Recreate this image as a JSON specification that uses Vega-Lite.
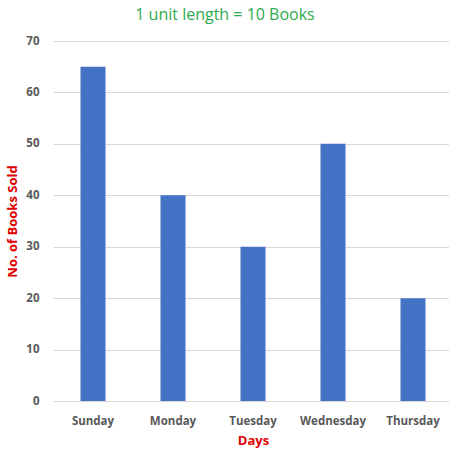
{
  "$schema": "https://vega.github.io/schema/vega-lite/v6.json",
  "autosize": {"type": "none"},
  "width": 396,
  "height": 360,
  "padding": {"left": 53, "top": 41, "right": 0, "bottom": 55},
  "background": "white",
  "title": {
    "text": "1 unit length = 10 Books",
    "color": "#2EAA4F",
    "font": "Open Sans",
    "fontSize": 16,
    "fontWeight": "normal",
    "anchor": "middle",
    "dx": -26,
    "offset": 12
  },
  "data": {
    "values": [
      {"day": "Sunday", "books": 65},
      {"day": "Monday", "books": 40},
      {"day": "Tuesday", "books": 30},
      {"day": "Wednesday", "books": 50},
      {"day": "Thursday", "books": 20}
    ]
  },
  "config": {
    "view": {"stroke": null},
    "axis": {"labelFont": "Open Sans", "titleFont": "Open Sans"}
  },
  "mark": {"type": "bar", "color": "#4472C4"},
  "encoding": {
    "x": {
      "field": "day",
      "type": "nominal",
      "sort": null,
      "scale": {"range": [0, 400], "paddingInner": 0.6875, "paddingOuter": 0.34375},
      "axis": {
        "title": "Days",
        "titleColor": "#E00000",
        "titleFontSize": 13,
        "titleFontWeight": "bold",
        "titlePadding": 8,
        "labelAngle": 0,
        "labelColor": "#595959",
        "labelFontSize": 11.5,
        "labelFontWeight": "bold",
        "labelPadding": 14,
        "domain": false,
        "ticks": false
      }
    },
    "y": {
      "field": "books",
      "type": "quantitative",
      "scale": {"domain": [0, 70]},
      "axis": {
        "title": "No. of Books Sold",
        "titleColor": "#E00000",
        "titleFontSize": 13,
        "titleFontWeight": "bold",
        "titlePadding": 6,
        "values": [0, 10, 20, 30, 40, 50, 60, 70],
        "labelColor": "#595959",
        "labelFontSize": 11.5,
        "labelFontWeight": "bold",
        "labelPadding": 14,
        "domain": false,
        "ticks": false,
        "gridColor": "#D9D9D9",
        "gridWidth": 1
      }
    }
  }
}
